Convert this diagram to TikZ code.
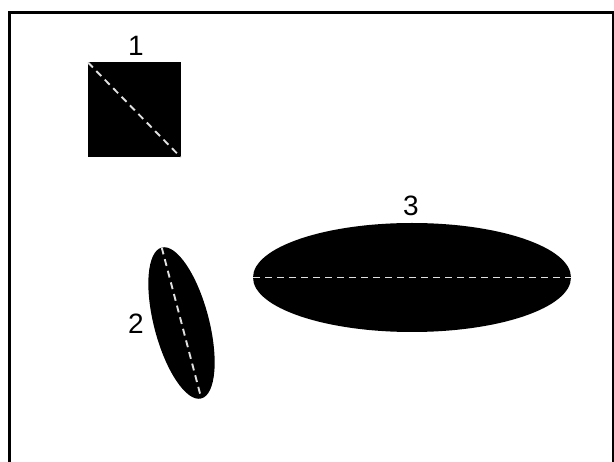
\documentclass[tikz,border=0pt]{standalone}
\usepackage{fontspec}
\setmainfont{Liberation Sans}
\usetikzlibrary{shapes.geometric}
\begin{document}
\begin{tikzpicture}[x=1pt,y=-1pt,
  shapefill/.style={fill=black,draw=none,inner sep=0pt,outer sep=0pt},
  axisline/.style={draw=white!88!black,line width=1.9pt,dash pattern=on 7pt off 5pt},
  lbl/.style={font=\fontsize{28}{32}\selectfont,inner sep=0pt}]
\useasboundingbox (0,0) rectangle (614,462);
\clip (0,0) rectangle (614,462);
\draw[line width=2.5pt] (9.5,12.5) rectangle (613.5,520);
\node[shapefill,rectangle,minimum width=93pt,minimum height=95pt] (s1) at (134.5,110) {};
\draw[axisline] (s1.north west) -- (s1.south east);
\node[lbl] (l1) at (136,46) {1};
\node[shapefill,ellipse,minimum width=55pt,minimum height=156pt,rotate=14.7] (e2) at (181.5,323) {};
\draw[axisline] ([shift={(0,0)}]e2.north) -- (e2.south);
\node[lbl] (l2) at (136,324) {2};
\node[shapefill,ellipse,minimum width=318pt,minimum height=109pt] (e3) at (412,277.5) {};
\draw[axisline] (e3.west) -- (e3.east);
\node[lbl] (l3) at (411,206) {3};
\end{tikzpicture}
\end{document}
